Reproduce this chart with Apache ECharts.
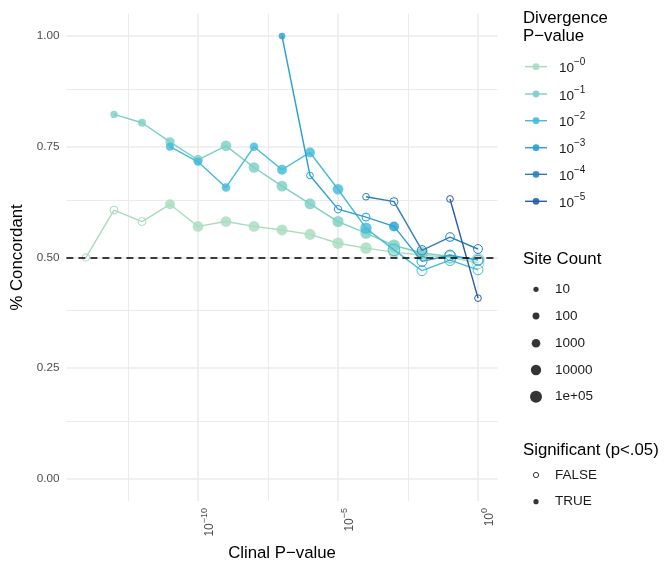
<!DOCTYPE html>
<html>
<head>
<meta charset="utf-8">
<script src="https://cdn.jsdelivr.net/npm/echarts@6/dist/echarts.min.js"></script>
<style>
html,body{margin:0;padding:0;background:#fff;}
#chart{width:664px;height:561px;}
</style>
</head>
<body>
<div id="chart"></div>
<script>
// ---- data ----
const clinalExp = [-14,-13,-12,-11,-10,-9,-8,-7,-6,-5,-4,-3,-2,-1,0];
const divergenceLabels = ['0','1','2','3','4','5'];
// Divergence 10^-0
const conc0  = [0.500,0.607,0.581,0.620,0.570,0.581,0.570,0.562,0.552,0.532,0.521,0.512,0.505,0.500,0.488];
const sites0 = [170,400,400,6000,17000,17000,20000,25000,30000,50000,60000,80000,100000,100000,100000];
const sig0   = [0,0,0,1,1,1,1,1,1,1,1,1,1,0,0];
// Divergence 10^-1
const conc1  = [null,0.823,0.804,0.761,0.720,0.752,0.703,0.661,0.621,0.581,0.555,0.527,0.510,0.502,0.495];
const sites1 = [null,170,440,2600,6000,17000,17000,20000,25000,30000,50000,100000,100000,100000,100000];
const sig1   = [null,1,1,1,1,1,1,1,1,1,1,1,1,0,0];
// Divergence 10^-2
const conc2  = [null,null,null,0.750,0.716,0.658,0.750,0.698,0.737,0.654,0.566,0.517,0.470,0.494,0.472];
const sites2 = [null,null,null,400,400,1000,1000,6000,6000,17000,40000,60000,6000,20000,6000];
const sig2   = [null,null,null,1,1,1,1,1,1,1,1,0,0,0,0];
// Divergence 10^-3
const conc3  = [null,null,null,null,null,null,null,1.000,0.685,0.609,0.591,0.570,0.491,0.505,0.494];
const sites3 = [null,null,null,null,null,null,null,75,75,170,400,6000,6000,10000,6000];
const sig3   = [null,null,null,null,null,null,null,1,0,0,0,1,0,0,0];
// Divergence 10^-4
const conc4  = [null,null,null,null,null,null,null,null,null,null,0.637,0.626,0.516,0.546,0.519];
const sites4 = [null,null,null,null,null,null,null,null,null,null,75,400,3000,1000,1500];
const sig4   = [null,null,null,null,null,null,null,null,null,null,0,0,0,0,0];
// Divergence 10^-5
const conc5  = [null,null,null,null,null,null,null,null,null,null,null,null,null,0.632,0.408];
const sites5 = [null,null,null,null,null,null,null,null,null,null,null,null,null,75,75];
const sig5   = [null,null,null,null,null,null,null,null,null,null,null,null,null,0,0];

const xTicks = [-10,-5,0];
const xMinorGrid = [-12.5,-7.5,-2.5];
const yTicks = [0,0.25,0.5,0.75,1];
const yMinorGrid = [0.125,0.375,0.625,0.875];
const siteLegend = [10,100,1000,10000,100000];
const siteLegendLabels = ['10','100','1000','10000','1e+05'];
const sigLegendLabels = ['FALSE','TRUE'];

// ---- styling ----
const FONT = '"Liberation Sans", Arial, Helvetica, sans-serif';
const colors = ['#a9dcbf','#7ccfc4','#45bbd8','#2aa0d2','#2b7fc0','#2a5ca6'];
const GRID = '#ebebeb';
const TITLE = 16.8, LEGTXT = 13.5;
function sizeOf(n){ return 3.5 + 1.7*Math.log10(n); }
function rgba(hex,a){
  const r=parseInt(hex.slice(1,3),16),g=parseInt(hex.slice(3,5),16),b=parseInt(hex.slice(5,7),16);
  return `rgba(${r},${g},${b},${a})`;
}

const seriesSets = [
  [conc0,sites0,sig0],[conc1,sites1,sig1],[conc2,sites2,sig2],
  [conc3,sites3,sig3],[conc4,sites4,sig4],[conc5,sites5,sig5]
];

const series = seriesSets.map((s,k)=>{
  const [vals,counts,sigs]=s;
  const data=[];
  clinalExp.forEach((x,i)=>{
    if(vals[i]==null) return;
    data.push({
      value:[x,vals[i]],
      symbolSize:sizeOf(counts[i]),
      itemStyle: sigs[i] ? {color:rgba(colors[k],0.82),borderWidth:0}
                         : {color:'rgba(255,255,255,0)',borderColor:colors[k],borderWidth:1}
    });
  });
  return {
    type:'line', name:'10^-'+divergenceLabels[k], data,
    symbol:'circle', showSymbol:true, showAllSymbol:true,
    lineStyle:{color:colors[k],width:1.4},
    itemStyle:{color:colors[k]},
    emphasis:{disabled:true}, silent:true, animation:false, clip:false,
    z:2+k*0.01
  };
});

// grid lines + reference line via markLine
series[0].markLine = {
  silent:true, symbol:'none', z:0, animation:false,
  label:{show:false},
  data:[
    ...xMinorGrid.map(v=>({xAxis:v,lineStyle:{color:GRID,width:1,type:'solid'}})),
    ...xTicks.map(v=>({xAxis:v,lineStyle:{color:GRID,width:1.6,type:'solid'}})),
    ...yMinorGrid.map(v=>({yAxis:v,lineStyle:{color:GRID,width:1,type:'solid'}})),
    ...yTicks.map(v=>({yAxis:v,lineStyle:{color:GRID,width:1.6,type:'solid'}}))
  ]
};
series[1].markLine = {
  silent:true, symbol:'none', z:4, animation:false,
  label:{show:false},
  data:[{yAxis:0.5,lineStyle:{color:'#000',width:1.6,type:[7,5]}}]
};

// ---- legends (graphic) ----
const graphic = [];
const LX = 523;
graphic.push({type:'text',x:LX,y:27.5,style:{text:'Divergence\nP\u2212value',font:`${TITLE}px ${FONT}`,fill:'#000',lineHeight:18.5,verticalAlign:'middle'},silent:true});
const legY = [66.7,94,120.7,147.7,174.3,201.3];
divergenceLabels.forEach((d,i)=>{
  const y=legY[i];
  graphic.push({type:'line',shape:{x1:525,y1:y,x2:547,y2:y},style:{stroke:colors[i],lineWidth:1.4},silent:true});
  graphic.push({type:'circle',shape:{cx:536,cy:y,r:3.4},style:{fill:rgba(colors[i],0.9)},silent:true});
  graphic.push({type:'text',x:559,y:y,style:{text:'{b|10}{s|\u2212'+d+'}',verticalAlign:'middle',
    rich:{b:{font:`${LEGTXT}px ${FONT}`,fill:'#1a1a1a',lineHeight:18,verticalAlign:'bottom'},
          s:{font:`10px ${FONT}`,fill:'#1a1a1a',lineHeight:10,verticalAlign:'top'}}},silent:true});
});
graphic.push({type:'text',x:LX,y:259.3,style:{text:'Site Count',font:`${TITLE}px ${FONT}`,fill:'#000',verticalAlign:'middle'},silent:true});
const siteY=[289.3,316,343.3,370,396.7];
siteLegend.forEach((n,i)=>{
  graphic.push({type:'circle',shape:{cx:536,cy:siteY[i],r:sizeOf(n)/2},style:{fill:'rgba(30,30,30,0.9)'},silent:true});
  graphic.push({type:'text',x:555,y:siteY[i],style:{text:siteLegendLabels[i],font:`${LEGTXT}px ${FONT}`,fill:'#1a1a1a',verticalAlign:'middle'},silent:true});
});
graphic.push({type:'text',x:LX,y:450.7,style:{text:'Significant (p<.05)',font:`${TITLE}px ${FONT}`,fill:'#000',verticalAlign:'middle'},silent:true});
const sigY=[475,501.7];
sigLegendLabels.forEach((t,i)=>{
  graphic.push({type:'circle',shape:{cx:536,cy:sigY[i],r:2.6},
    style: i===0 ? {fill:'rgba(0,0,0,0)',stroke:'#333',lineWidth:1} : {fill:'rgba(30,30,30,0.9)'},silent:true});
  graphic.push({type:'text',x:555,y:sigY[i],style:{text:t,font:`${LEGTXT}px ${FONT}`,fill:'#1a1a1a',verticalAlign:'middle'},silent:true});
});

const option = {
  animation:false,
  backgroundColor:'#fff',
  grid:{left:66.4,right:166.4,top:13.85,bottom:60,containLabel:false,outerBoundsMode:'none'},
  xAxis:{
    type:'value', min:-14.7, max:0.7,
    name:'Clinal P\u2212value', nameLocation:'middle', nameGap:42,
    nameTextStyle:{fontFamily:FONT,fontSize:TITLE,color:'#000'},
    axisLine:{show:false}, axisTick:{show:false}, splitLine:{show:false},
    axisLabel:{
      customValues:xTicks, rotate:90, margin:7, padding:[20,0,0,0],
      formatter:v=>'{b|10}{s|'+(v===0?'0':'\u2212'+Math.abs(v))+'}',
      rich:{b:{fontFamily:FONT,fontSize:12,color:'#4d4d4d',lineHeight:16,verticalAlign:'bottom'},
            s:{fontFamily:FONT,fontSize:9,color:'#4d4d4d',lineHeight:9,verticalAlign:'top'}}
    }
  },
  yAxis:{
    type:'value', min:-0.05, max:1.05,
    name:'% Concordant', nameLocation:'middle', nameGap:40, nameRotate:90,
    nameTextStyle:{fontFamily:FONT,fontSize:TITLE,color:'#000'},
    axisLine:{show:false}, axisTick:{show:false}, splitLine:{show:false},
    axisLabel:{customValues:yTicks, margin:7, formatter:v=>v.toFixed(2),
      fontFamily:FONT,fontSize:11.7,color:'#4d4d4d'}
  },
  series,
  graphic
};
const chart = echarts.init(document.getElementById('chart'),null,{renderer:'canvas'});
chart.setOption(option);
</script>
</body>
</html>
